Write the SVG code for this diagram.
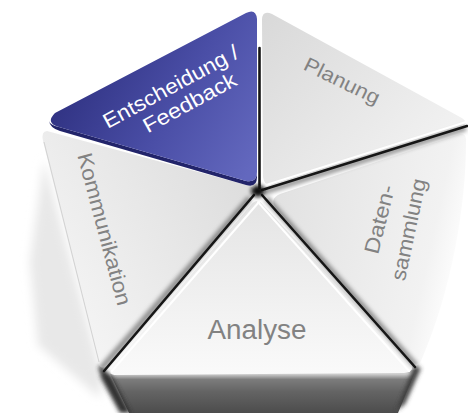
<svg xmlns="http://www.w3.org/2000/svg" width="468" height="413" viewBox="0 0 468 413">
  <defs>
    <style>
      .lbl { font-family: "Liberation Sans", Arial, sans-serif; fill: #828282; }
      .lbl-w { font-family: "Liberation Sans", Arial, sans-serif; fill: #ffffff; }
      .groove { fill: none; stroke: #161616; stroke-width: 2.6; stroke-linecap: round; }
      .groove-shadow { fill: none; stroke: #000; stroke-opacity: 0.4; stroke-width: 6; filter: url(#soft); }
      .hl { fill: none; stroke: #ffffff; stroke-width: 2; stroke-linecap: round; }
    </style>
    <filter id="soft" x="-20%" y="-20%" width="140%" height="140%">
      <feGaussianBlur stdDeviation="2"/>
    </filter>
    <filter id="haze" x="-50%" y="-50%" width="200%" height="200%">
      <feGaussianBlur stdDeviation="5"/>
    </filter>
    <filter id="hub" x="-100%" y="-100%" width="300%" height="300%">
      <feGaussianBlur stdDeviation="2.2"/>
    </filter>
    <linearGradient id="gBlue" x1="60" y1="60" x2="250" y2="170" gradientUnits="userSpaceOnUse">
      <stop offset="0" stop-color="#2c2e7d"/>
      <stop offset="0.55" stop-color="#4a4ea6"/>
      <stop offset="1" stop-color="#6368be"/>
    </linearGradient>
    <linearGradient id="gPlan" x1="265" y1="15" x2="420" y2="160" gradientUnits="userSpaceOnUse">
      <stop offset="0" stop-color="#d9d9d9"/>
      <stop offset="1" stop-color="#f1f1f1"/>
    </linearGradient>
    <linearGradient id="gDaten" x1="280" y1="200" x2="460" y2="240" gradientUnits="userSpaceOnUse">
      <stop offset="0" stop-color="#e2e2e2"/>
      <stop offset="0.85" stop-color="#f2f2f2"/>
      <stop offset="1" stop-color="#fcfcfc"/>
    </linearGradient>
    <linearGradient id="gAna" x1="0" y1="200" x2="0" y2="376" gradientUnits="userSpaceOnUse">
      <stop offset="0" stop-color="#e4e4e4"/>
      <stop offset="1" stop-color="#fafafa"/>
    </linearGradient>
    <linearGradient id="gKomm" x1="240" y1="190" x2="60" y2="300" gradientUnits="userSpaceOnUse">
      <stop offset="0" stop-color="#dedede"/>
      <stop offset="1" stop-color="#f4f4f4"/>
    </linearGradient>
    <linearGradient id="gFront" x1="0" y1="374" x2="0" y2="413" gradientUnits="userSpaceOnUse">
      <stop offset="0" stop-color="#d0d0d0"/>
      <stop offset="0.14" stop-color="#7c7c7c"/>
      <stop offset="0.45" stop-color="#646464"/>
      <stop offset="1" stop-color="#4c4c4c"/>
    </linearGradient>
  </defs>

  <rect width="468" height="413" fill="#ffffff"/>

  <!-- soft side of the left segment -->
  <path d="M44,160 L30,262 L38,345 L100,398 L102,372 L98,362 Z" fill="#e8e8e8" filter="url(#haze)"/>

  <!-- front face of the slab under "Analyse" -->
  <g id="base">
    <path d="M110,374 L416,370 L398,413 L129,413 Z" fill="url(#gFront)"/>
    <path d="M99,366 L112,376 L131,413 L120,413 L101,378 Z" fill="#333333" filter="url(#soft)"/>
    <path d="M414,366 L421,368 L405,404 L396,411 Z" fill="#3e3e3e" filter="url(#soft)"/>
  </g>

  <g id="kommunikation">
    <path d="M47,131 L250,186 Q258,190 252,198 L108,364 Q101,372 98,362 L43,141 Q41,131 47,131 Z" fill="url(#gKomm)"/>
    <path d="M44,142 L99,362" fill="none" stroke="#d2d2d2" stroke-width="1"/>
    <text class="lbl" font-size="21" text-anchor="middle" textLength="157" lengthAdjust="spacingAndGlyphs" transform="translate(97.5,231) rotate(75)">Kommunikation</text>
  </g>

  <g id="analyse">
    <path d="M251,205 Q257,197 263,205 L410,362 Q416,372 404,373 L119,375 Q106,376 113,366 Z" fill="url(#gAna)"/>
    <text class="lbl" x="257" y="339" font-size="27" text-anchor="middle" textLength="99" lengthAdjust="spacingAndGlyphs">Analyse</text>
  </g>

  <g id="datensammlung">
    <path d="M280,194 L457,135 Q467,131 466,142 C466,205 452,290 421,361 Q416,370 410,362 L276,208 Q269,199 280,194 Z" fill="url(#gDaten)"/>
    <text class="lbl" font-size="21" text-anchor="middle" textLength="70" lengthAdjust="spacingAndGlyphs" transform="translate(386.5,221) rotate(-76)">Daten-</text>
    <text class="lbl" font-size="21" text-anchor="middle" textLength="104" lengthAdjust="spacingAndGlyphs" transform="translate(415.5,231) rotate(-78)">sammlung</text>
  </g>

  <g id="planung">
    <path d="M262,20 Q262,10 272,14 L460,117 Q471,123 461,128 L277,183 Q264,188 263,177 Z" fill="url(#gPlan)"/>
    <text class="lbl" font-size="20" text-anchor="middle" textLength="82" lengthAdjust="spacingAndGlyphs" transform="translate(339,87) rotate(26)">Planung</text>
  </g>

  <!-- grooves between the segments -->
  <g id="connectors">
    <path class="groove-shadow" d="M264,192 L466,128"/>
    <path class="groove-shadow" d="M266,198 L416,366"/>
    <path class="groove-shadow" d="M250,198 L100,370"/>
    <path class="groove-shadow" d="M259,50 L259,188"/>
    <path class="hl" d="M266,185 L466,122"/>
    <path class="hl" d="M258,202 L409,371"/>
    <path class="hl" d="M259,202 L112,371"/>
    <path class="groove" d="M262,190 L467,126"/>
    <path class="groove" d="M262,195 L415,367"/>
    <path class="groove" d="M254,195 L104,371"/>
    <path class="groove" d="M259.5,48 L259.5,188"/>
    <ellipse cx="258" cy="191" rx="7" ry="6" fill="#0d0d0d" filter="url(#hub)"/>
  </g>

  <g id="entscheidung">
    <path d="M49,121 Q50,128 60,131 L246,185 Q257,188 257,177 L257,172 Q257,183 246,181 L59,127 Q50,125 49,121 Z" fill="#22246a"/>
    <path d="M55,113 L246,13 Q256,8 257,19 L257,172 Q257,183 246,181 L59,127 Q45,123 55,113 Z" fill="url(#gBlue)"/>
    <text class="lbl-w" font-size="21" text-anchor="middle" textLength="151" lengthAdjust="spacingAndGlyphs" transform="translate(174,93) rotate(-28.5)">Entscheidung /</text>
    <text class="lbl-w" font-size="21" text-anchor="middle" textLength="103" lengthAdjust="spacingAndGlyphs" transform="translate(193,109) rotate(-28.5)">Feedback</text>
  </g>
</svg>
